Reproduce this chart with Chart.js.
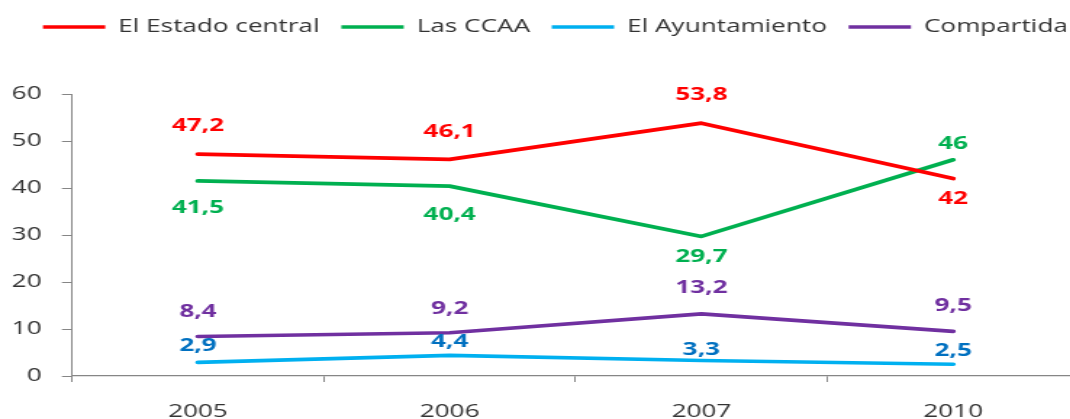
<!DOCTYPE html>
<html>
<head>
<meta charset="utf-8">
<script src="https://cdn.jsdelivr.net/npm/chart.js@4"></script>
<style>
  html, body { margin: 0; padding: 0; background: #fff; overflow: hidden; }
  /* The chart is laid out narrower and widened horizontally */
  #wrap { position: absolute; left: 0; top: 0; width: 746px; height: 419px;
          transform: scaleX(1.45); transform-origin: 0 0; }
</style>
</head>
<body>
<div id="wrap"><canvas id="c"></canvas></div>
<script>
// Years surveyed
const years = ['2005', '2006', '2007', '2010'];

// Share of answers (%) per administration
const estadoCentral = [47.2, 46.1, 53.8, 42];
const ccaa = [41.5, 40.4, 29.7, 46];
const ayuntamiento = [2.9, 4.4, 3.3, 2.5];
const compartida = [8.4, 9.2, 13.2, 9.5];

// Value axis ticks
const yTickValues = [0, 10, 20, 30, 40, 50, 60];

// Vertical shift of each value label from its point (px, negative = above)
const estadoLabelDy = [-28, -27, -28, 20];
const ccaaLabelDy = [27, 29, 20, -16];
const ayuntamientoLabelDy = [-16, -13, -11, -13];
const compartidaLabelDy = [-25, -24, -26, -25];

const FONT = '"Open Sans", "DejaVu Sans", sans-serif';
const AXIS_COLOR = '#868686';
const TEXT_COLOR = '#333333';

const fmt = v => String(v).replace('.', ',');

// Draws the value next to every point of every series
const valueLabels = {
  id: 'valueLabels',
  afterDatasetsDraw(chart) {
    const ctx = chart.ctx;
    ctx.save();
    ctx.font = 'bold 18px ' + FONT;
    ctx.textAlign = 'center';
    ctx.textBaseline = 'middle';
    chart.data.datasets.forEach((ds, i) => {
      const meta = chart.getDatasetMeta(i);
      ctx.fillStyle = ds.labelColor;
      meta.data.forEach((pt, j) => {
        ctx.fillText(fmt(ds.data[j]), pt.x, pt.y + ds.labelDy[j]);
      });
    });
    ctx.restore();
  }
};

// Reserves room between the legend row and the plot, and nudges the row
const legendSpace = {
  id: 'legendSpace',
  beforeInit(chart) {
    const legend = chart.legend;
    const fit = legend.fit;
    const draw = legend.draw;
    legend.fit = function () {
      fit.call(this);
      this.height = 94;
    };
    legend.draw = function () {
      const ctx = this.ctx;
      ctx.save();
      ctx.translate(10, 3);
      draw.call(this);
      ctx.restore();
    };
  }
};

function series(label, data, color, labelColor, labelDy) {
  return {
    label, data,
    borderColor: color,
    backgroundColor: color,
    borderWidth: 3.7,
    borderCapStyle: 'round',
    borderJoinStyle: 'round',
    pointRadius: 0,
    pointHoverRadius: 0,
    tension: 0,
    fill: false,
    labelColor, labelDy
  };
}

new Chart(document.getElementById('c'), {
  type: 'line',
  data: {
    labels: years,
    datasets: [
      series('El Estado central', estadoCentral, '#FF0000', '#FF0000', estadoLabelDy),
      series('Las CCAA', ccaa, '#00B050', '#00B050', ccaaLabelDy),
      series('El Ayuntamiento', ayuntamiento, '#00B0F0', '#0070C0', ayuntamientoLabelDy),
      series('Compartida', compartida, '#7030A0', '#7030A0', compartidaLabelDy)
    ]
  },
  options: {
    responsive: true,
    maintainAspectRatio: false,
    animation: false,
    events: [],
    layout: { padding: { top: 0, left: 0, right: 0, bottom: 0 } },
    plugins: {
      tooltip: { enabled: false },
      legend: {
        position: 'top',
        align: 'center',
        labels: {
          font: { family: FONT, size: 18 },
          color: TEXT_COLOR,
          usePointStyle: true,
          pointStyle: 'line',
          pointStyleWidth: 43,
          padding: 15
        }
      }
    },
    scales: {
      x: {
        type: 'category',
        offset: true,
        afterFit(scale) { scale.height = 43; },
        grid: {
          display: true,
          offset: true,
          drawOnChartArea: false,
          drawTicks: true,
          tickLength: 6,
          color: AXIS_COLOR,
          lineWidth: 1
        },
        border: { display: true, color: AXIS_COLOR, width: 1.3 },
        ticks: {
          font: { family: FONT, size: 18 },
          color: TEXT_COLOR,
          padding: 19,
          maxRotation: 0,
          autoSkip: false
        }
      },
      y: {
        min: 0,
        max: 60,
        afterFit(scale) { scale.width = 49.7; },
        afterBuildTicks(scale) { scale.ticks = yTickValues.map(v => ({ value: v })); },
        grid: {
          display: true,
          drawOnChartArea: false,
          drawTicks: true,
          tickLength: 7,
          color: AXIS_COLOR,
          lineWidth: 1
        },
        border: { display: true, color: AXIS_COLOR, width: 1 },
        ticks: {
          font: { family: FONT, size: 18 },
          color: TEXT_COLOR,
          padding: 14,
          callback: v => String(v)
        }
      }
    }
  },
  plugins: [valueLabels, legendSpace]
});
</script>
</body>
</html>
